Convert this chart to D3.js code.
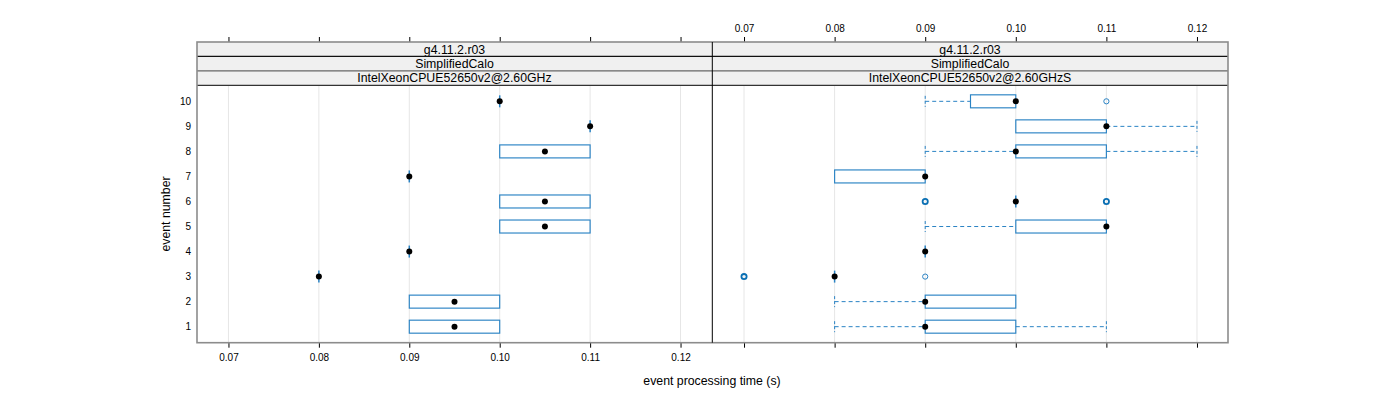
<!DOCTYPE html>
<html><head><meta charset="utf-8">
<script src="https://cdn.jsdelivr.net/npm/d3@7"></script>
<style>body{margin:0;background:#fff}svg{display:block;font-family:"Liberation Sans",Arial,sans-serif}</style>
</head><body><svg id="c" width="1400" height="400"></svg>
<script>
// ---- data ----
const events = [1,2,3,4,5,6,7,8,9,10];
const xTicks = [0.07,0.08,0.09,0.10,0.11,0.12];
const stripVersion = "g4.11.2.r03";
const stripTest = "SimplifiedCalo";
const panelNames = ["IntelXeonCPUE52650v2@2.60GHz", "IntelXeonCPUE52650v2@2.60GHzS"];

// panel 1 (…GHz): per event 1..10
const p1Low    = [0.09,0.09,0.08,0.09,0.10,0.10,0.09,0.10,0.11,0.10];
const p1Q1     = [0.09,0.09,0.08,0.09,0.10,0.10,0.09,0.10,0.11,0.10];
const p1Median = [0.095,0.095,0.08,0.09,0.105,0.105,0.09,0.105,0.11,0.10];
const p1Q3     = [0.10,0.10,0.08,0.09,0.11,0.11,0.09,0.11,0.11,0.10];
const p1High   = [0.10,0.10,0.08,0.09,0.11,0.11,0.09,0.11,0.11,0.10];
const p1Out    = [[],[],[],[],[],[],[],[],[],[]];

// panel 2 (…GHzS)
const p2Low    = [0.08,0.08,0.08,0.09,0.09,0.10,0.08,0.09,0.10,0.09];
const p2Q1     = [0.09,0.09,0.08,0.09,0.10,0.10,0.08,0.10,0.10,0.095];
const p2Median = [0.09,0.09,0.08,0.09,0.11,0.10,0.09,0.10,0.11,0.10];
const p2Q3     = [0.10,0.10,0.08,0.09,0.11,0.10,0.09,0.11,0.11,0.10];
const p2High   = [0.11,0.10,0.08,0.09,0.11,0.10,0.09,0.12,0.12,0.10];
const p2Out    = [[],[],[0.07,0.07,0.07,0.09],[],[],[0.09,0.09,0.09,0.11,0.11,0.11],[],[],[],[0.11]];

// ---- layout ----
const svg = d3.select("#c");
const topY = 42, stripH = 14.43, plotTop = 85.3, plotBot = 342.7;
const panels = [
  {x0:197, x1:712, name:panelNames[0], low:p1Low,q1:p1Q1,med:p1Median,q3:p1Q3,high:p1High,out:p1Out, topLabels:false, botLabels:true},
  {x0:712, x1:1228, name:panelNames[1], low:p2Low,q1:p2Q1,med:p2Median,q3:p2Q3,high:p2High,out:p2Out, topLabels:true, botLabels:false}
];
const blue = "#2a83c4";
const y = d3.scaleLinear().domain([0.36,10.64]).range([plotBot, plotTop]);
const boxH = 13;

panels.forEach((p,pi)=>{
  const x = d3.scaleLinear().domain([0.06652,0.12348]).range([p.x0 + (pi?0.5:0), p.x1 + (pi?0.5:0)]);
  const g = svg.append("g");
  g.selectAll("line.grid").data(xTicks).join("line")
    .attr("x1",d=>x(d)).attr("x2",d=>x(d)).attr("y1",plotTop).attr("y2",plotBot)
    .attr("stroke","#e6e6e6").attr("stroke-width",1);
  const labels = [stripVersion, stripTest, p.name];
  labels.forEach((t,i)=>{
    g.append("rect").attr("x",p.x0).attr("y",topY+i*stripH).attr("width",p.x1-p.x0).attr("height",stripH)
      .attr("fill","#f0f0f0").attr("stroke","none");
    g.append("text").attr("x",(p.x0+p.x1)/2).attr("y",topY+i*stripH+stripH/2+4.4)
      .attr("text-anchor","middle").attr("font-size",12.3).attr("fill","#000").text(t);
  });
  [[topY+stripH,"#111"],[topY+2*stripH,"#666"],[plotTop,"#333"]].forEach(([yy,c])=>{
    g.append("line").attr("x1",p.x0).attr("x2",p.x1).attr("y1",yy).attr("y2",yy).attr("stroke",c).attr("stroke-width",1.2);
  });

  events.forEach((e,i)=>{
    const cy = y(e);
    const lo=p.low[i], q1=p.q1[i], md=p.med[i], q3=p.q3[i], hi=p.high[i];
    if (lo < q1) {
      g.append("line").attr("x1",x(lo)).attr("x2",x(q1)).attr("y1",cy).attr("y2",cy)
        .attr("stroke",blue).attr("stroke-dasharray","4,3").attr("stroke-width",1);
      g.append("line").attr("x1",x(lo)).attr("x2",x(lo)).attr("y1",cy-boxH/2+1).attr("y2",cy+boxH/2-1)
        .attr("stroke",blue).attr("stroke-dasharray","3,2").attr("stroke-width",1);
    }
    if (hi > q3) {
      g.append("line").attr("x1",x(q3)).attr("x2",x(hi)).attr("y1",cy).attr("y2",cy)
        .attr("stroke",blue).attr("stroke-dasharray","4,3").attr("stroke-width",1);
      g.append("line").attr("x1",x(hi)).attr("x2",x(hi)).attr("y1",cy-boxH/2+1).attr("y2",cy+boxH/2-1)
        .attr("stroke",blue).attr("stroke-dasharray","3,2").attr("stroke-width",1);
    }
    if (q3 > q1) {
      g.append("rect").attr("x",x(q1)).attr("y",cy-boxH/2).attr("width",x(q3)-x(q1)).attr("height",boxH)
        .attr("fill","none").attr("stroke",blue).attr("stroke-width",1.15);
    } else {
      g.append("line").attr("x1",x(q1)).attr("x2",x(q1)).attr("y1",cy-boxH/2+0.5).attr("y2",cy+boxH/2-0.5)
        .attr("stroke",blue).attr("stroke-width",1.5);
    }
    const counts = d3.rollup(p.out[i], v=>v.length, d=>d);
    counts.forEach((n,v)=>{
      g.append("circle").attr("cx",x(v)).attr("cy",cy).attr("r",2.6)
        .attr("fill","none").attr("stroke", n>1?"#0a6fb3":blue).attr("stroke-width", n>1?1.8:1);
    });
    g.append("circle").attr("cx",x(md)).attr("cy",cy).attr("r",3).attr("fill","#000");
  });

  const axB = d3.axisBottom(x).tickValues(xTicks).tickSize(5).tickPadding(6).tickFormat(d3.format(".2f"));
  const axT = d3.axisTop(x).tickValues(xTicks).tickSize(5).tickPadding(5.5).tickFormat(d3.format(".2f"));
  const gb = svg.append("g").attr("transform",`translate(0,${plotBot})`).call(axB);
  const gt = svg.append("g").attr("transform",`translate(0,${topY})`).call(axT);
  [gb,gt].forEach(a=>{
    a.select(".domain").remove();
    a.selectAll(".tick line").attr("stroke","#000");
    a.selectAll(".tick text").attr("font-size",10).attr("fill","#000").attr("font-family","Liberation Sans, Arial, sans-serif");
  });
  if (!p.botLabels) gb.selectAll(".tick text").remove();
  if (!p.topLabels) gt.selectAll(".tick text").remove();
});

svg.append("rect").attr("x",197).attr("y",topY).attr("width",1228-197).attr("height",plotBot-topY)
  .attr("fill","none").attr("stroke","#8c8c8c").attr("stroke-width",1.6);
svg.append("line").attr("x1",712.3).attr("x2",712.3).attr("y1",topY).attr("y2",plotBot).attr("stroke","#000").attr("stroke-width",1);

svg.selectAll("text.ylab").data(events).join("text").attr("class","ylab")
  .attr("x",191).attr("y",d=>y(d)+3.5).attr("text-anchor","end").attr("font-size",10).attr("fill","#000").text(d=>d);

svg.append("text").attr("x",712).attr("y",385).attr("text-anchor","middle").attr("font-size",12.3).attr("fill","#000")
  .text("event processing time (s)");
svg.append("text").attr("transform",`translate(170,${(plotTop+plotBot)/2}) rotate(-90)`).attr("text-anchor","middle")
  .attr("font-size",12.3).attr("fill","#000").text("event number");
</script></body></html>
